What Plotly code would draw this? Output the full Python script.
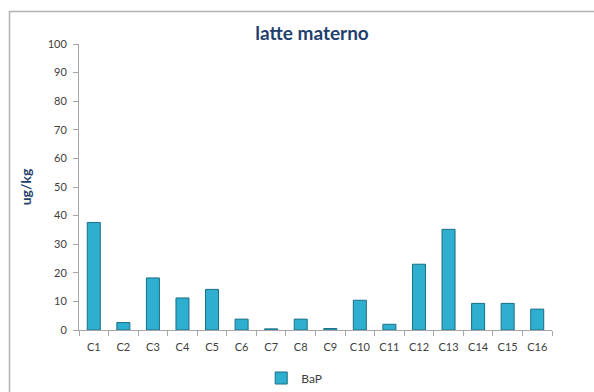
import plotly.graph_objects as go

# Benzo[a]pirene measured in breast milk samples
categories = ["C1", "C2", "C3", "C4", "C5", "C6", "C7", "C8",
              "C9", "C10", "C11", "C12", "C13", "C14", "C15", "C16"]
bap_values = [37.6, 2.6, 18.2, 11.2, 14.2, 3.8, 0.4, 3.8,
              0.5, 10.4, 2.0, 23.0, 35.2, 9.3, 9.3, 7.3]
y_ticks = [0, 10, 20, 30, 40, 50, 60, 70, 80, 90, 100]

W, H = 594, 392
ML, MR, MT, MB = 79, 42, 44, 62
pw, ph = W - ML - MR, H - MT - MB

def px_to_paper_x(px):
    return (px - ML) / pw

def px_to_paper_y(py):
    return (H - MB - py) / ph

navy = "#1F3F6E"
axis_grey = "#A6A6A6"
text_grey = "#404040"

fig = go.Figure()
fig.add_trace(go.Bar(
    x=categories,
    y=bap_values,
    name="BaP",
    marker=dict(color="#2EAFCF", line=dict(color="#1A6E86", width=1)),
))

fig.update_layout(
    width=W, height=H,
    margin=dict(l=ML, r=MR, t=MT, b=MB, autoexpand=False),
    paper_bgcolor="white",
    plot_bgcolor="white",
    font=dict(family="Lato, 'Open Sans', sans-serif", size=11, color=text_grey),
    bargap=0.56,
    showlegend=True,
    legend=dict(orientation="h", x=0.455, xanchor="center",
                y=px_to_paper_y(378), yanchor="middle",
                font=dict(size=12, color=text_grey),
                itemwidth=30),
    title=dict(text="<b>latte materno</b>", x=px_to_paper_x(312), xref="paper",
               xanchor="center", y=1 - 33 / H, yref="container", yanchor="middle",
               font=dict(size=19, color=navy)),
    xaxis=dict(
        type="category",
        automargin=False,
        tickangle=0,
        ticklabelstandoff=7,
        showline=True, linecolor=axis_grey, linewidth=1,
        ticks="outside", ticklen=5, tickcolor=axis_grey, tickson="boundaries",
        tickfont=dict(size=11, color=text_grey),
        showgrid=False, zeroline=False,
    ),
    yaxis=dict(
        range=[0, 100],
        automargin=False,
        tickvals=y_ticks,
        ticklabelstandoff=4,
        showline=True, linecolor=axis_grey, linewidth=1,
        ticks="outside", ticklen=5, tickcolor=axis_grey,
        tickfont=dict(size=11, color=text_grey),
        showgrid=False, zeroline=False,
        title=dict(text="<b>ug/kg</b>", font=dict(size=14, color=navy), standoff=12),
    ),
    shapes=[
        # outer chart frame
        dict(type="rect", xref="paper", yref="paper",
             x0=px_to_paper_x(9.5), x1=px_to_paper_x(640),
             y0=px_to_paper_y(440), y1=px_to_paper_y(11.5),
             line=dict(color="#B3B3B3", width=1.5), fillcolor="rgba(0,0,0,0)",
             layer="below"),
    ],
)

fig.write_html("out.html")
